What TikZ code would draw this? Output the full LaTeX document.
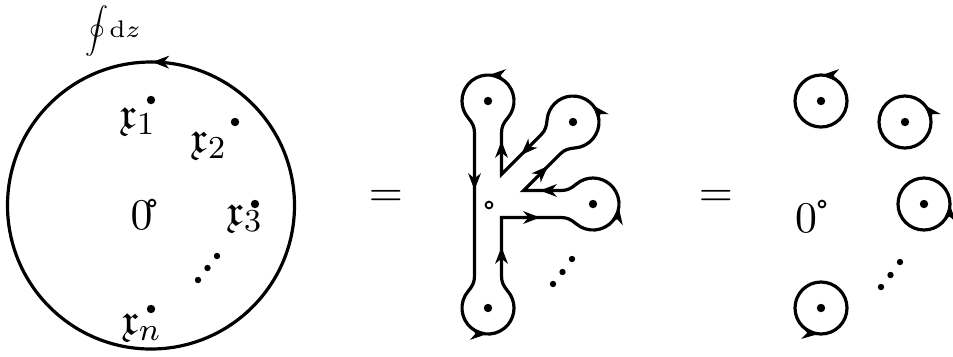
\documentclass[tikz,border=0pt]{standalone}
\usepackage{amsmath,amssymb}
\usetikzlibrary{calc,arrows.meta,decorations.markings}
\begin{document}
\begin{tikzpicture}[x=0.25pt,y=0.25pt,
  contour/.style={line width=0.8pt, line join=miter},
  arrmark/.style={decorate,decoration={markings,mark=at position #1 with {\arrow{Stealth[length=4.2pt,width=3.2pt,inset=1.3pt]}}}},
  dotp/.style={circle, fill, inner sep=0pt, minimum size=2.1pt},
  smalldot/.style={circle, fill, inner sep=0pt, minimum size=1.6pt},
  zerop/.style={circle, draw, line width=0.45pt, inner sep=0pt, minimum size=1.7pt, fill=white},
  lbl/.style={inner sep=0pt, font=\fontsize{10.95}{13}\selectfont}
]
\useasboundingbox (0,0) rectangle (953,-356);
\newcommand{\circarrow}[3]{% center, radius, tip angle (CCW)
  \path[arrmark=0.5] ($(#1)+(#3:#2)+(#3-90:10)$) -- ($(#1)+(#3:#2)+(#3+90:10)$);}

% ---------- left panel ----------
\coordinate (O) at (151,-205.5);
\draw[contour] (O) circle[radius=143.5];
\circarrow{O}{143.5}{89.5}
\node[inner sep=0pt, scale=0.575] (oint) at (96.5,-31) {$\displaystyle\oint$};
\node[inner sep=0pt, font=\fontsize{6}{7}\selectfont] (dz) at (125,-29.5) {$\mathrm{d}z$};

\node[dotp] (a1) at (151,-100) {};
\node[dotp] (a2) at (235,-122) {};
\node[dotp] (a3) at (255,-204) {};
\node[dotp] (an) at (151,-309) {};
\node[zerop] (a0) at (152,-203) {};
\node[lbl] (la1) at (138,-122) {$\mathfrak{x}_1$};
\node[lbl] (la2) at (209,-146) {$\mathfrak{x}_2$};
\node[lbl] (la3) at (245,-219) {$\mathfrak{x}_3$};
\node[lbl] (lan) at (142,-328) {$\mathfrak{x}_n$};
\node[lbl] (la0) at (141.5,-215.5) {$0$};
\node[smalldot] (ae1) at (198,-280) {};
\node[smalldot] (ae2) at (207.5,-268) {};
\node[smalldot] (ae3) at (217,-256) {};

\node[lbl] (eq1) at (386,-198) {$=$};
\node[lbl] (eq2) at (716,-198) {$=$};

% ---------- middle panel ----------
\coordinate (C1) at (488,-101);
\coordinate (C2) at (573,-122);
\coordinate (C3) at (593,-204);
\coordinate (C4) at (488,-308);
\coordinate (N1out) at (474.5,-133);
\coordinate (N1in) at (501.5,-133);
\coordinate (N4in) at (474.5,-276);
\coordinate (N4out) at (501.5,-276);
\coordinate (N3in) at (561,-217.5);
\coordinate (N3out) at (561,-190.5);
\coordinate (N2in) at (559.92,-154.18);
\coordinate (N2out) at (540.82,-135.08);
\coordinate (K1) at (501.5,-217.5);
\coordinate (K2) at (523.6,-190.5);
\coordinate (K3) at (501.5,-174.4);

\draw[contour] (N1out) -- (N4in)
  to[out=270,in=50] ($(C4)+(140:26)$)
  arc[start angle=140,end angle=400,radius=26]
  to[out=130,in=270] (N4out)
  -- (K1) -- (N3in)
  to[out=0,in=140] ($(C3)+(230:26)$)
  arc[start angle=230,end angle=490,radius=26]
  to[out=220,in=0] (N3out)
  -- (K2) -- (N2in)
  to[out=45,in=185] ($(C2)+(-85:26)$)
  arc[start angle=-85,end angle=175,radius=26]
  to[out=265,in=45] (N2out)
  -- (K3) -- (N1in)
  to[out=90,in=230] ($(C1)+(-40:26)$)
  arc[start angle=-40,end angle=220,radius=26]
  to[out=310,in=90] (N1out) -- cycle;

% arrows on loops
\circarrow{C1}{26}{88}
\circarrow{C2}{26}{40}
\circarrow{C3}{26}{-8}
\circarrow{C4}{26}{-92}
% arrows on straight parts
\path[arrmark=0.5] (474.5,-170) -- (474.5,-210);
\path[arrmark=0.5] (501.5,-267) -- (501.5,-227);
\path[arrmark=0.5] (520,-217.5) -- (560,-217.5);
\path[arrmark=0.5] (560,-190.5) -- (520,-190.5);
\path[arrmark=0.5] (537.4,-176.6) -- (558.6,-155.4);
\path[arrmark=0.5] (531.6,-144.4) -- (510.4,-165.6);
\path[arrmark=0.5] (501.5,-161) -- (501.5,-121);

\node[dotp] (b1) at (C1) {};
\node[dotp] (b2) at (C2) {};
\node[dotp] (b3) at (C3) {};
\node[dotp] (b4) at (C4) {};
\node[zerop] (b0) at (489,-205) {};
\node[smalldot] (be1) at (553,-284) {};
\node[smalldot] (be2) at (562.5,-272) {};
\node[smalldot] (be3) at (572,-259) {};

% ---------- right panel ----------
\coordinate (R1) at (821,-101);
\coordinate (R2) at (905,-122);
\coordinate (R3) at (924,-204);
\coordinate (R4) at (821,-308);
\foreach \c in {R1,R2,R3,R4} \draw[contour] (\c) circle[radius=26];
\circarrow{R1}{26}{88}
\circarrow{R2}{26}{40}
\circarrow{R3}{26}{-2}
\circarrow{R4}{26}{-95}
\node[dotp] (c1) at (R1) {};
\node[dotp] (c2) at (R2) {};
\node[dotp] (c3) at (R3) {};
\node[dotp] (c4) at (R4) {};
\node[zerop] (c0) at (822,-204) {};
\node[lbl] (lc0) at (806,-218) {$0$};
\node[smalldot] (ce1) at (881,-287) {};
\node[smalldot] (ce2) at (890.5,-275) {};
\node[smalldot] (ce3) at (900,-262) {};
\end{tikzpicture}
\end{document}
